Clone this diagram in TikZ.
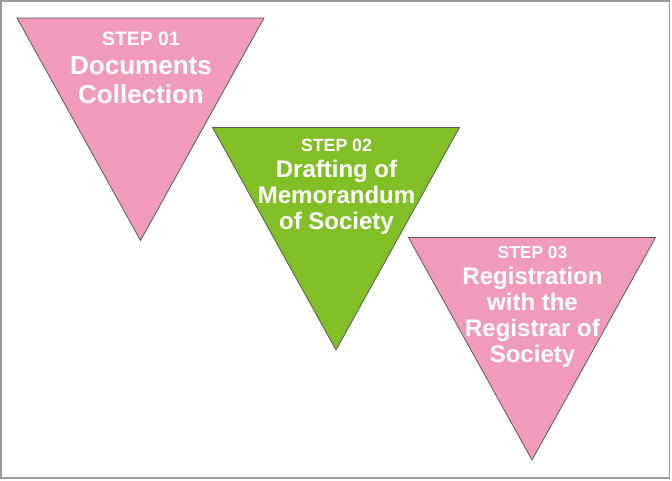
\documentclass[tikz,border=0pt]{standalone}
\usepackage{fontspec}
\setmainfont{Liberation Sans}
\usetikzlibrary{positioning}
\definecolor{Pink}{HTML}{F19BBC}
\definecolor{Leaf}{HTML}{80BF26}
\definecolor{Edge}{HTML}{5A5A5A}
\definecolor{Frame}{HTML}{9A9A9A}
\tikzset{
  funnel/.style={draw=Edge,line width=0.8pt,line join=miter},
  steptext/.style={text=white,align=center,inner sep=0pt,anchor=north},
}
\newcommand{\stepfunnel}[3]{% left x, top y, colour
  \draw[funnel,fill=#3] (#1,#2) -- ++(247,0) -- ++(-123.5,222.5) -- cycle;
}

\begin{document}
\begin{tikzpicture}[x=1pt,y=-1pt]
        \useasboundingbox (0,0) rectangle (672,480);
        \fill[white] (0,0) rectangle (672,480);
        \draw[Frame,line width=1.5pt] (1,1) rectangle (669.5,478);
        \stepfunnel{17}{18}{Pink}
        \stepfunnel{212.5}{127.5}{Leaf}
        \stepfunnel{408.5}{237.5}{Pink}
        \node[steptext,font=\fontsize{26}{29}\selectfont\bfseries] (one) at (141,31.8)
          {{\fontsize{19.4}{19.4}\selectfont STEP 01}\\Documents\\Collection};
        \node[steptext,font=\fontsize{24}{26}\selectfont\bfseries] (two) at (336.5,139.4)
          {{\fontsize{17.7}{17.7}\selectfont STEP 02}\\Drafting of\\Memorandum\\of Society};
        \node[steptext,font=\fontsize{24}{26}\selectfont\bfseries] (three) at (532.5,245.8)
          {{\fontsize{17.4}{17.4}\selectfont STEP 03}\\Registration\\with the\\Registrar of\\Society};
      \end{tikzpicture}
\end{document}
